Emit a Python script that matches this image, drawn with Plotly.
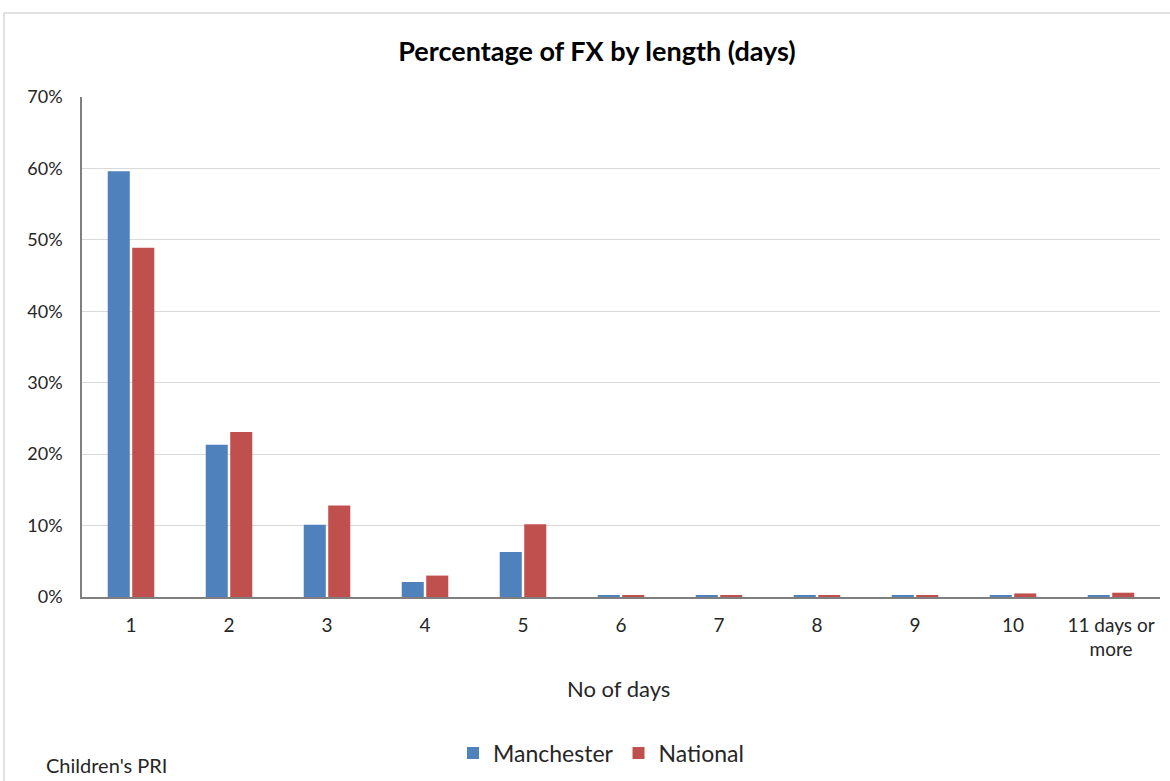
import plotly.graph_objects as go

# Length of fixed-term exclusion (days)
categories = ["1", "2", "3", "4", "5", "6", "7", "8", "9", "10", "11 days or<br>more"]
manchester = [0.596, 0.213, 0.101, 0.021, 0.063, 0.002, 0.002, 0.002, 0.002, 0.002, 0.002]
national = [0.489, 0.231, 0.128, 0.030, 0.102, 0.002, 0.002, 0.002, 0.002, 0.005, 0.006]

FONT = "Lato, Carlito, 'Open Sans', sans-serif"
TEXT = "#262626"

W, H = 1170, 781
ML, MR, MT, MB = 82, 10, 97, 184
PW, PH = W - ML - MR, H - MT - MB


def px_x(px):
    return (px - ML) / PW


def px_y(py):
    return (H - MB - py) / PH


fig = go.Figure()
fig.add_trace(go.Bar(x=categories, y=manchester, name="Manchester",
                     marker=dict(color="#4F81BD", line=dict(width=0))))
fig.add_trace(go.Bar(x=categories, y=national, name="National",
                     marker=dict(color="#C0504D", line=dict(width=0))))

fig.update_layout(
    width=W, height=H,
    margin=dict(l=ML, r=MR, t=MT, b=MB, autoexpand=False),
    paper_bgcolor="white", plot_bgcolor="white",
    barmode="group", bargap=0.5, bargroupgap=0.1,
    font=dict(family=FONT, color=TEXT, size=18),
    title=dict(text="<b>Percentage of FX by length (days)</b>",
               x=px_x(597), xref="paper", xanchor="center",
               y=1 - 52 / H, yanchor="middle",
               font=dict(size=27, color="#000000", family=FONT),
               automargin=False),
    showlegend=True,
    legend=dict(orientation="h", x=px_x(601), y=px_y(753),
                xanchor="center", yanchor="middle",
                font=dict(size=23, color=TEXT, family=FONT),
                itemwidth=30, traceorder="normal", tracegroupgap=0),
    xaxis=dict(showgrid=False, showline=True, linecolor="#7f7f7f", linewidth=1.5,
               ticks="", ticklabelstandoff=10, automargin=False,
               tickfont=dict(size=19, color=TEXT), fixedrange=True),
    yaxis=dict(range=[0, 0.7], dtick=0.1, tickformat=".0%",
               showgrid=True, gridcolor="#d9d9d9", gridwidth=1,
               showline=True, linecolor="#7f7f7f", linewidth=1.5,
               zeroline=False, ticks="", ticklabelstandoff=14, automargin=False,
               tickfont=dict(size=18, color=TEXT)),
    annotations=[
        dict(text="No of days", xref="paper", yref="paper",
             x=px_x(618), y=px_y(688), xanchor="center", yanchor="middle",
             showarrow=False, font=dict(size=22, color=TEXT, family=FONT)),
        dict(text="Children's PRI", xref="paper", yref="paper",
             x=px_x(44), y=px_y(765), xanchor="left", yanchor="middle",
             showarrow=False, font=dict(size=20, color=TEXT, family=FONT)),
    ],
    shapes=[
        dict(type="rect", xref="paper", yref="paper",
             x0=px_x(4), x1=px_x(1180), y0=px_y(795), y1=px_y(13),
             line=dict(color="#d9d9d9", width=1.5), fillcolor="rgba(0,0,0,0)",
             layer="below"),
    ],
)

fig.write_html("out.html")
